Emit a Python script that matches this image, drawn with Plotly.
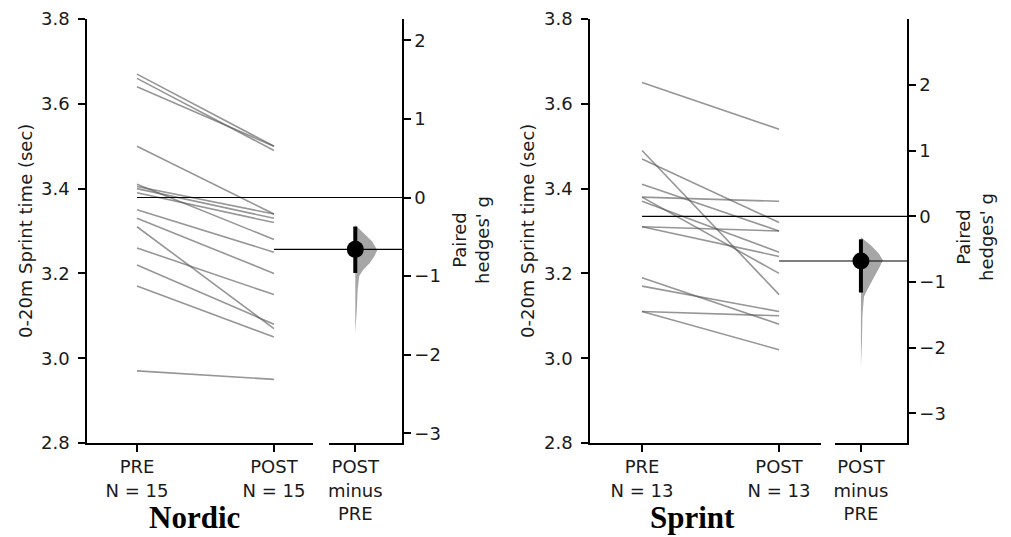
import plotly.graph_objects as go

# ---------------- data ----------------
groups = ["Nordic", "Sprint"]
conditions = ["PRE", "POST"]

nordic_pre = [3.67, 3.66, 3.64, 3.50, 3.41, 3.405, 3.40, 3.39, 3.35, 3.33, 3.31, 3.26, 3.22, 3.17, 2.97]
nordic_post = [3.50, 3.49, 3.50, 3.34, 3.28, 3.34, 3.33, 3.32, 3.25, 3.20, 3.07, 3.15, 3.08, 3.05, 2.95]

sprint_pre = [3.65, 3.49, 3.47, 3.41, 3.38, 3.38, 3.37, 3.31, 3.31, 3.19, 3.17, 3.11, 3.11]
sprint_post = [3.54, 3.15, 3.32, 3.30, 3.37, 3.20, 3.25, 3.30, 3.24, 3.08, 3.11, 3.10, 3.02]

# paired hedges' g with 95% CI
nordic_g = -0.66
nordic_ci = [-0.96, -0.37]
sprint_g = -0.68
sprint_ci = [-1.16, -0.35]

# bootstrap distribution outline (g value, relative density)
nordic_boot_g = [-0.35, -0.46, -0.56, -0.67, -0.75, -0.84, -0.92, -1.00, -1.17, -1.43, -1.72]
nordic_boot_d = [0.0, 0.41, 0.77, 1.0, 0.86, 0.64, 0.36, 0.18, 0.11, 0.07, 0.02]
sprint_boot_g = [-0.32, -0.44, -0.57, -0.67, -0.79, -0.95, -1.10, -1.22, -1.50, -1.90, -2.30]
sprint_boot_d = [0.0, 0.45, 0.82, 1.0, 0.82, 0.55, 0.32, 0.14, 0.07, 0.045, 0.015]

y_ticks = [2.8, 3.0, 3.2, 3.4, 3.6, 3.8]
g_ticks = [-3, -2, -1, 0, 1, 2]
y_range = [2.8, 3.8]

# ---------------- layout geometry (page pixels) ----------------
W, H = 1011, 537
OFF = 8  # page body margin
TOP, BOT = 19, 443
FONT = "DejaVu Sans"
FS = 18
TXT = "#1a1a1a"

panels = [
    dict(name="Nordic", pre=nordic_pre, post=nordic_post, g=nordic_g, ci=nordic_ci,
         bg=nordic_boot_g, bd=nordic_boot_d,
         main=(87, 313), delta=(329, 402), xr=(-0.365, 1.285),
         ytitle_x=25, gtitle_x=471, gtitle_y=240, title_x=194),
    dict(name="Sprint", pre=sprint_pre, post=sprint_post, g=sprint_g, ci=sprint_ci,
         bg=sprint_boot_g, bd=sprint_boot_d,
         main=(590, 821), delta=(835, 907), xr=(-0.380, 1.306),
         ytitle_x=527, gtitle_x=975, gtitle_y=237, title_x=692),
]

def px_x(p):
    return (p - OFF) / W

def px_y(p):
    return 1 - (p - OFF) / H

fig = go.Figure()
layout = dict(
    width=W, height=H, margin=dict(l=0, r=0, t=0, b=0, autoexpand=False),
    paper_bgcolor="white", plot_bgcolor="white", showlegend=False,
    font=dict(family=FONT, size=FS, color=TXT),
)
shapes = []
annotations = []

common_axis = dict(showline=True, linecolor="black", linewidth=1.5, ticks="outside",
                   ticklen=7, tickwidth=1.5, tickcolor="black", showgrid=False,
                   zeroline=False, tickfont=dict(family=FONT, size=FS, color=TXT),
                   fixedrange=True, automargin=False, ticklabeloverflow="allow")

ydom = [px_y(BOT), px_y(TOP)]
VIOLIN_MAX_PX = 22

for i, p in enumerate(panels):
    n = len(p["pre"])
    xa_main = "x" if i == 0 else f"x{2 * i + 1}"
    ya_main = "y" if i == 0 else f"y{2 * i + 1}"
    xa_d = f"x{2 * i + 2}"
    ya_d = f"y{2 * i + 2}"
    key = lambda a: a.replace("x", "xaxis").replace("y", "yaxis")

    mean_pre = sum(p["pre"]) / n
    mean_post = sum(p["post"]) / len(p["post"])
    k = p["g"] / (mean_post - mean_pre)
    g_range = [(y_range[0] - mean_pre) * k, (y_range[1] - mean_pre) * k]

    # paired lines
    for a, b in zip(p["pre"], p["post"]):
        fig.add_trace(go.Scatter(x=[0, 1], y=[a, b], mode="lines",
                                 line=dict(color="rgba(85,85,85,0.62)", width=1.6),
                                 xaxis=xa_main, yaxis=ya_main, hoverinfo="skip"))

    # bootstrap half-violin
    dw = (p["delta"][1] - p["delta"][0])
    wx = [d * VIOLIN_MAX_PX / dw for d in p["bd"]]
    vx = wx + [0] * len(wx)
    vy = p["bg"] + p["bg"][::-1]
    fig.add_trace(go.Scatter(x=vx, y=vy, mode="lines", fill="toself",
                             fillcolor="rgba(150,150,150,0.85)", line=dict(width=0),
                             xaxis=xa_d, yaxis=ya_d, hoverinfo="skip"))
    # CI bar
    fig.add_trace(go.Scatter(x=[0, 0], y=p["ci"], mode="lines",
                             line=dict(color="black", width=4),
                             xaxis=xa_d, yaxis=ya_d, hoverinfo="skip"))
    # effect size dot
    fig.add_trace(go.Scatter(x=[0], y=[p["g"]], mode="markers",
                             marker=dict(color="black", size=17),
                             xaxis=xa_d, yaxis=ya_d, hoverinfo="skip"))

    # axes
    mx0, mx1 = p["main"]
    dx0, dx1 = p["delta"]
    xr = p["xr"]
    layout[key(xa_main)] = dict(common_axis, domain=[px_x(mx0), px_x(mx1)], range=list(xr),
                                tickvals=[0, 1],
                                ticktext=[f"{c}<br>N = {n}" for c in conditions],
                                anchor=ya_main)
    layout[key(ya_main)] = dict(common_axis, domain=ydom, range=y_range,
                                tickvals=y_ticks, ticktext=[f"{v:.1f}" for v in y_ticks],
                                anchor=xa_main, ticklabelstandoff=5)
    drange = [-0.36, 0.64]
    layout[key(xa_d)] = dict(common_axis, domain=[px_x(dx0), px_x(dx1)], range=drange,
                             tickvals=[0], ticktext=["POST<br>minus<br>PRE"], anchor=ya_d)
    layout[key(ya_d)] = dict(common_axis, domain=ydom, range=g_range, tickvals=g_ticks,
                             side="right", anchor=xa_d)

    # mean reference lines (paper x, data y)
    def main_px(v):
        return mx0 + (v - xr[0]) / (xr[1] - xr[0]) * (mx1 - mx0)
    shapes.append(dict(type="line", xref="paper", yref=ya_main,
                       x0=px_x(main_px(0)), x1=px_x(dx1), y0=mean_pre, y1=mean_pre,
                       line=dict(color="black", width=1.2)))
    shapes.append(dict(type="line", xref="paper", yref=ya_main,
                       x0=px_x(main_px(1)), x1=px_x(dx1), y0=mean_post, y1=mean_post,
                       line=dict(color="black", width=1.2)))

    # axis titles
    annotations.append(dict(text="0-20m Sprint time (sec)", x=px_x(p["ytitle_x"]),
                            y=px_y((TOP + BOT) / 2), xref="paper", yref="paper",
                            textangle=-90, showarrow=False, xanchor="center", yanchor="middle",
                            font=dict(family=FONT, size=18, color=TXT)))
    annotations.append(dict(text="Paired<br>hedges' g", x=px_x(p["gtitle_x"]),
                            y=px_y(p["gtitle_y"]), xref="paper", yref="paper",
                            textangle=-90, showarrow=False, xanchor="center", yanchor="middle",
                            font=dict(family=FONT, size=18, color=TXT)))
    annotations.append(dict(text=f"<b>{p['name']}</b>", x=px_x(p["title_x"]), y=px_y(517),
                            xref="paper", yref="paper", showarrow=False,
                            xanchor="center", yanchor="middle",
                            font=dict(family="Liberation Serif, Times New Roman, serif",
                                      size=31, color="black")))

layout["shapes"] = shapes
layout["annotations"] = annotations
fig.update_layout(**layout)
fig.write_html("out.html")
